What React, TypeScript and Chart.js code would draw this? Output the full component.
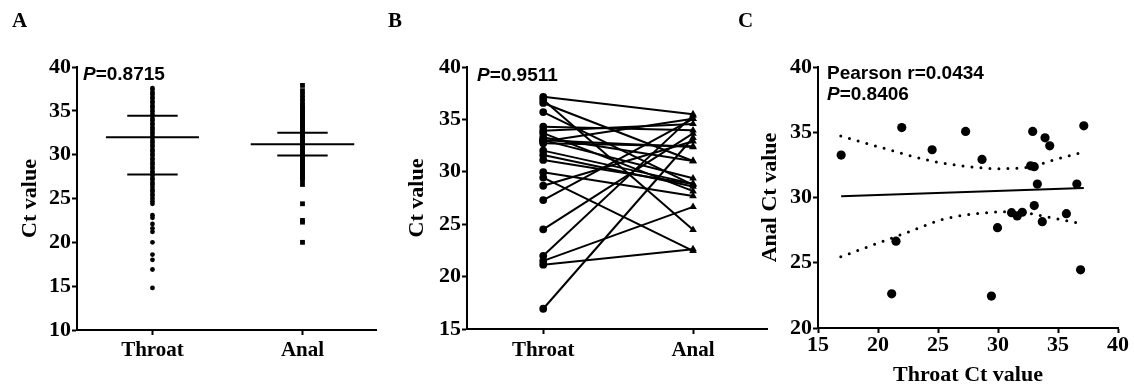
import React, { useEffect, useRef } from "react";
import { Chart, registerables } from "chart.js";

Chart.register(...registerables);

// ---------- DATA ----------
const groupLabels = ["Throat", "Anal"];

// Panel A: all samples (Ct values)
const throatAll = [
  14.8, 16.9, 18.0, 18.6, 20.0, 21.2, 21.6, 22.1, 22.8, 23.1, 24.4, 24.7,
  25.0, 25.3, 25.5, 25.8, 26.0, 26.3, 26.6, 26.8, 27.1, 27.3, 27.6, 27.9,
  28.1, 28.4, 28.6, 28.9, 29.1, 29.4, 29.6, 29.9, 30.1, 30.4, 30.6, 30.9,
  31.1, 31.4, 31.6, 31.9, 32.1, 32.4, 32.6, 32.9, 33.1, 33.4, 33.6, 33.9,
  34.1, 34.4, 34.6, 34.9, 35.1, 35.4, 35.6, 35.9, 36.1, 36.4, 36.6, 36.9,
  37.1, 37.4, 37.6,
];
const analAll = [
  20.0, 22.3, 22.5, 24.4, 26.6, 27.1, 27.4, 27.6, 27.9, 28.1, 28.4, 28.6,
  28.9, 29.1, 29.4, 29.6, 29.9, 30.1, 30.4, 30.6, 30.9, 31.1, 31.4, 31.6,
  31.9, 32.1, 32.4, 32.6, 32.9, 33.1, 33.4, 33.6, 33.9, 34.1, 34.4, 34.6,
  34.9, 35.1, 35.4, 35.6, 36.0, 36.4, 36.85, 37.3, 37.9,
];
// [lower, centre, upper] summary lines
const throatSummary = [27.75, 32.0, 34.45];
const analSummary = [29.9, 31.2, 32.5];

// Panels B & C: paired samples
const pairedThroat = [
  16.93, 21.98, 21.14, 21.5, 24.51, 27.3, 28.67, 29.45, 29.96, 31.13, 31.6,
  32.02, 32.89, 32.72, 33.02, 33.28, 33.02, 33.69, 33.92, 34.31, 35.7, 36.57,
  36.88, 37.15,
];
const pairedAnal = [
  33.25, 35.36, 22.62, 26.65, 33.66, 35.06, 32.92, 22.45, 27.69, 28.84, 28.59,
  28.87, 35.06, 32.43, 32.36, 31.03, 29.38, 28.15, 34.57, 33.96, 28.76, 31.03,
  24.46, 35.49,
];

// Panel C: fitted line and 95% confidence band
const fitX = [16.93, 37.15];
const fitY = [30.1, 30.72];
const upperBandX = [16.9, 20.5, 24.1, 27.1, 30.1, 32.4, 34.6, 36.7];
const upperBandY = [34.71, 33.77, 32.87, 32.41, 32.21, 32.3, 32.87, 33.39];
const lowerBandX = [16.9, 19.8, 22.6, 25.4, 28.5, 31.25, 34.0, 36.55];
const lowerBandY = [25.46, 26.44, 27.38, 28.33, 28.79, 28.91, 28.53, 28.07];

const pValues = ["0.8715", "0.9511", "0.8406"];
const pearsonR = "0.0434";
const yTitleAB = "Ct value";
const yTitleC = "Anal Ct value";
const xTitleC = "Throat Ct value";

// ---------- STYLE HELPERS ----------
const SERIF = "'Liberation Serif', 'Times New Roman', serif";
const SANS = "'Liberation Sans', Arial, sans-serif";
const numTickFont = { family: SERIF, weight: "bold" as const, size: 22 };
const catTickFont = { family: SERIF, weight: "bold" as const, size: 21 };
const titleFont = { family: SERIF, weight: "bold" as const, size: 22 };

function axis(extra: any, font: any = numTickFont) {
  return {
    grid: {
      display: true,
      drawOnChartArea: false,
      drawTicks: true,
      tickLength: 5,
      tickWidth: 2,
      tickColor: "#000",
    },
    border: { display: true, color: "#000", width: 2 },
    ...extra,
    ticks: { color: "#000", font, ...(extra.ticks || {}) },
  };
}

function drawP(ctx: CanvasRenderingContext2D, x: number, y: number, rest: string) {
  ctx.fillStyle = "#000";
  ctx.textBaseline = "alphabetic";
  ctx.textAlign = "left";
  ctx.font = `italic bold 19px ${SANS}`;
  ctx.fillText("P", x, y);
  const w = ctx.measureText("P").width;
  ctx.font = `bold 19px ${SANS}`;
  ctx.fillText(rest, x + w, y);
}

function drawLetter(ctx: CanvasRenderingContext2D, letter: string, x: number, y: number) {
  ctx.fillStyle = "#000";
  ctx.textBaseline = "alphabetic";
  ctx.textAlign = "left";
  ctx.font = `bold 21px ${SERIF}`;
  ctx.fillText(letter, x, y);
}

function annot(draw: (ctx: CanvasRenderingContext2D) => void) {
  return {
    id: "annot",
    afterDraw(chart: any) {
      const ctx = chart.ctx as CanvasRenderingContext2D;
      ctx.save();
      draw(ctx);
      ctx.restore();
    },
  };
}

const categoryTicks = (s: any) => {
  s.ticks = [{ value: 0 }, { value: 1 }];
};

const baseOptions = {
  responsive: false,
  animation: false as const,
  events: [] as any[],
  plugins: { legend: { display: false }, tooltip: { enabled: false } },
};

function summaryLine(center: number, half: number, y: number) {
  return {
    data: [
      { x: center - half, y },
      { x: center + half, y },
    ],
    showLine: true,
    borderColor: "#000",
    borderWidth: 2,
    pointRadius: 0,
  };
}

// ---------- CONFIGS ----------
function configA(): any {
  return {
    type: "scatter",
    data: {
      datasets: [
        {
          data: throatAll.map((v) => ({ x: 0, y: v })),
          pointStyle: "circle",
          pointRadius: 2.4,
          backgroundColor: "#000",
          borderColor: "#000",
          borderWidth: 0,
        },
        {
          data: analAll.map((v) => ({ x: 1, y: v })),
          pointStyle: "rect",
          pointRadius: 3.4,
          backgroundColor: "#000",
          borderColor: "#000",
          borderWidth: 0,
        },
        summaryLine(0, 0.31, throatSummary[1]),
        summaryLine(0, 0.168, throatSummary[0]),
        summaryLine(0, 0.168, throatSummary[2]),
        summaryLine(1, 0.345, analSummary[1]),
        summaryLine(1, 0.168, analSummary[0]),
        summaryLine(1, 0.168, analSummary[2]),
      ],
    },
    options: {
      ...baseOptions,
      layout: { padding: { left: 0, top: 67, right: 4, bottom: 0 } },
      scales: {
        x: axis(
          {
            type: "linear",
            min: -0.503,
            max: 1.49,
            afterBuildTicks: categoryTicks,
            afterFit: (s: any) => {
              s.height = 59;
            },
            ticks: { padding: 3, callback: (v: number) => groupLabels[v] ?? "" },
          },
          catTickFont
        ),
        y: axis({
          type: "linear",
          min: 10,
          max: 40,
          afterFit: (s: any) => {
            s.width = 77;
          },
          ticks: { stepSize: 5, padding: 1 },
          title: {
            display: true,
            text: yTitleAB,
            color: "#000",
            font: titleFont,
            padding: { top: 17, bottom: 0 },
          },
        }),
      },
    },
    plugins: [
      annot((ctx) => {
        drawLetter(ctx, "A", 12, 27);
        drawP(ctx, 83, 80, "=" + pValues[0]);
      }),
    ],
  };
}

function configB(): any {
  const datasets = pairedThroat.map((t, i) => ({
    data: [
      { x: 0, y: t },
      { x: 1, y: pairedAnal[i] },
    ],
    showLine: true,
    borderColor: "#000",
    borderWidth: 2,
    backgroundColor: "#000",
    pointStyle: ["circle", "triangle"],
    pointRadius: [3.9, 4.4],
    pointBorderWidth: 0,
  }));
  return {
    type: "scatter",
    data: { datasets },
    options: {
      ...baseOptions,
      layout: { padding: { left: 0, top: 67, right: 4, bottom: 0 } },
      scales: {
        x: axis(
          {
            type: "linear",
            min: -0.509,
            max: 1.498,
            afterBuildTicks: categoryTicks,
            afterFit: (s: any) => {
              s.height = 60;
            },
            ticks: { padding: 4, callback: (v: number) => groupLabels[v] ?? "" },
          },
          catTickFont
        ),
        y: axis({
          type: "linear",
          min: 15,
          max: 40,
          afterFit: (s: any) => {
            s.width = 87;
          },
          ticks: { stepSize: 5, padding: 1 },
          title: {
            display: true,
            text: yTitleAB,
            color: "#000",
            font: titleFont,
            padding: { top: 24, bottom: 0 },
          },
        }),
      },
    },
    plugins: [
      annot((ctx) => {
        drawLetter(ctx, "B", 8, 27);
        drawP(ctx, 97, 81, "=" + pValues[1]);
      }),
    ],
  };
}

function configC(): any {
  const band = (xs: number[], ys: number[]) => ({
    data: xs.map((x, i) => ({ x, y: ys[i] })),
    showLine: true,
    borderColor: "#000",
    borderWidth: 3,
    borderDash: [0, 9],
    borderCapStyle: "round",
    cubicInterpolationMode: "monotone",
    pointRadius: 0,
  });
  return {
    type: "scatter",
    data: {
      datasets: [
        {
          data: pairedThroat.map((t, i) => ({ x: t, y: pairedAnal[i] })),
          pointStyle: "circle",
          pointRadius: 4.6,
          backgroundColor: "#000",
          borderColor: "#000",
          borderWidth: 0,
        },
        {
          data: fitX.map((x, i) => ({ x, y: fitY[i] })),
          showLine: true,
          borderColor: "#000",
          borderWidth: 2,
          pointRadius: 0,
        },
        band(upperBandX, upperBandY),
        band(lowerBandX, lowerBandY),
      ],
    },
    options: {
      ...baseOptions,
      layout: { padding: { left: 0, top: 67, right: 16, bottom: 0 } },
      scales: {
        x: axis({
          type: "linear",
          min: 15,
          max: 40,
          afterFit: (s: any) => {
            s.height = 61;
          },
          ticks: { stepSize: 5, padding: -1 },
          title: {
            display: true,
            text: xTitleC,
            color: "#000",
            font: titleFont,
            padding: { top: 0, bottom: 0 },
          },
        }),
        y: axis({
          type: "linear",
          min: 20,
          max: 40,
          afterFit: (s: any) => {
            s.width = 83;
          },
          ticks: { stepSize: 5, padding: 1 },
          title: {
            display: true,
            text: yTitleC,
            color: "#000",
            font: titleFont,
            padding: { top: 22, bottom: 0 },
          },
        }),
      },
    },
    plugins: [
      annot((ctx) => {
        drawLetter(ctx, "C", 3, 27);
        drawP(ctx, 92, 100, "=" + pValues[2]);
        ctx.font = `bold 19px ${SANS}`;
        ctx.fillText("Pearson r=" + pearsonR, 92, 79);
      }),
    ],
  };
}

export default function App() {
  const aRef = useRef<HTMLCanvasElement>(null);
  const bRef = useRef<HTMLCanvasElement>(null);
  const cRef = useRef<HTMLCanvasElement>(null);

  useEffect(() => {
    const charts = [
      new Chart(aRef.current!, configA()),
      new Chart(bRef.current!, configB()),
      new Chart(cRef.current!, configC()),
    ];
    return () => charts.forEach((c) => c.destroy());
  }, []);

  return (
    <div
      style={{
        position: "absolute",
        left: 0,
        top: 0,
        width: 1134,
        height: 389,
        background: "#fff",
        overflow: "hidden",
      }}
    >
      <canvas ref={aRef} width={380} height={389} style={{ position: "absolute", left: 0, top: 0 }} />
      <canvas ref={bRef} width={392} height={389} style={{ position: "absolute", left: 380, top: 0 }} />
      <canvas ref={cRef} width={399} height={389} style={{ position: "absolute", left: 735, top: 0 }} />
    </div>
  );
}
